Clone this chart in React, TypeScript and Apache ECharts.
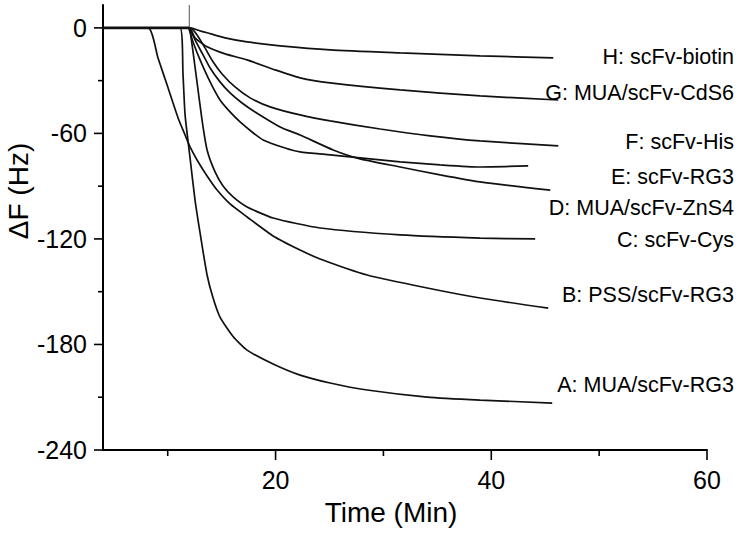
import React, { useEffect, useRef } from "react";
import * as echarts from "echarts";

// Time (min), ΔF (Hz)
const curveA: [number, number][] = [
  [4, 0], [11.14, 0], [11.42, -26.7], [11.61, -49.5], [12.07, -73.9], [12.53, -97.8],
  [13.0, -116.6], [13.65, -140.5], [14.2, -153.5], [14.85, -164.5], [16.06, -175.5],
  [17.36, -183.2], [19.77, -191.1], [22.27, -197.4], [25.06, -201.9], [28.49, -205.9],
  [34.06, -209.9], [38.97, -211.6], [45.65, -213.3],
];
const curveB: [number, number][] = [
  [4, 0], [8.17, 0], [9.1, -17.1], [10.03, -34.1], [10.96, -51.2], [11.61, -60.9],
  [12.07, -67.7], [12.72, -75.1], [13.65, -84.2], [14.58, -92.2], [15.78, -100.1],
  [17.36, -107.5], [19.77, -118.3], [22.27, -126.3], [24.13, -131.4], [28.49, -140.5],
  [34.06, -147.9], [38.97, -153.6], [45.28, -159.3],
];
const curveC: [number, number][] = [
  [4, 0], [12.0, 0], [12.07, -1.1], [12.63, -26.7], [13.18, -52.3], [13.65, -69.4],
  [14.39, -81.9], [15.13, -89.9], [16.06, -96.1], [17.36, -101.8], [19.77, -108.1],
  [24.13, -113.8], [31.55, -117.7], [38.97, -119.5], [44.07, -120.0],
];
const curveD: [number, number][] = [
  [4, 0], [11.98, 0], [12.07, -0.6], [12.63, -8.0], [13.28, -15.4], [13.93, -22.8],
  [14.85, -30.7], [15.78, -37.0], [16.89, -42.7], [18.1, -47.8], [20.42, -56.3],
  [22.27, -60.9], [25.34, -69.4], [27.84, -74.5], [31.55, -79.1], [35.26, -83.6],
  [38.97, -87.6], [45.47, -92.2],
];
const curveE: [number, number][] = [
  [4, 0], [11.95, 0], [11.98, -0.6], [12.35, -8.0], [13.0, -18.2], [13.93, -30.7],
  [14.85, -41.0], [15.78, -47.8], [16.71, -53.5], [17.82, -59.2], [18.84, -63.7],
  [20.88, -68.3], [22.27, -70.5], [25.06, -72.2], [27.84, -73.9], [31.55, -76.2],
  [35.26, -77.9], [38.97, -79.1], [43.42, -78.5],
];
const curveF: [number, number][] = [
  [4, 0], [12.07, 0], [12.72, -4.0], [13.46, -11.4], [14.2, -19.3], [15.04, -26.2],
  [16.24, -33.6], [17.64, -39.8], [19.49, -44.9], [22.27, -49.5], [25.06, -52.9],
  [29.7, -57.5], [34.33, -61.4], [38.97, -64.3], [46.21, -67.1],
];
const curveG: [number, number][] = [
  [4, 0], [11.98, 0], [12.53, -5.7], [13.65, -10.8], [15.32, -14.8], [17.36, -18.2],
  [19.96, -23.9], [22.27, -28.4], [25.06, -31.3], [31.55, -35.3], [38.97, -38.7],
  [46.21, -41.0],
];
const curveH: [number, number][] = [
  [4, 0], [12.07, 0], [13.0, -1.7], [13.65, -2.8], [15.32, -5.7], [17.36, -8.0],
  [20.42, -10.2], [25.06, -12.5], [31.55, -14.2], [38.97, -15.9], [45.74, -17.1],
];
const injectionSpike: [number, number][] = [[12.0, 0], [12.0, 13]];
const baselineNoise: [number, number][] = [[4, 0], [12.0, 0]];

const seriesNames = [
  "A: MUA/scFv-RG3",
  "B: PSS/scFv-RG3",
  "C: scFv-Cys",
  "D: MUA/scFv-ZnS4",
  "E: scFv-RG3",
  "F: scFv-His",
  "G: MUA/scFv-CdS6",
  "H: scFv-biotin",
];

const yMajorTicks = [-240, -180, -120, -60, 0];
const yAllTicks = [-240, -210, -180, -150, -120, -90, -60, -30, 0];
const xMajorTicks = [20, 40, 60];
const xAllTicks = [10, 20, 30, 40, 50, 60];

const xTitle = "Time (Min)";
const yTitle = "ΔF (Hz)";

const X_MIN = 4;
const Y_MIN = -240;

export default function App() {
  const ref = useRef<HTMLDivElement>(null);
  useEffect(() => {
    if (!ref.current) return;
    const chart = echarts.init(ref.current, null, { renderer: "svg" });
    const font = "'Liberation Sans', Arial, Helvetica, sans-serif";
    const curves = [curveA, curveB, curveC, curveD, curveE, curveF, curveG, curveH];
    const labelYs = [385, 295, 240, 208, 177, 142, 93, 57];

    const lineSeries: any[] = curves.map((c, i) => ({
      name: seriesNames[i],
      type: "line",
      data: c,
      showSymbol: false,
      symbol: "none",
      smooth: 0.2,
      lineStyle: { color: "#111", width: 1.7 },
      emphasis: { disabled: true },
      z: 3,
    }));
    lineSeries.push({
      name: "spike",
      type: "line",
      data: injectionSpike,
      showSymbol: false,
      symbol: "none",
      lineStyle: { color: "#555", width: 1 },
      emphasis: { disabled: true },
    });
    lineSeries.push({
      name: "baseline",
      type: "line",
      data: baselineNoise,
      showSymbol: false,
      symbol: "none",
      lineStyle: { color: "#111", width: 2.6 },
      emphasis: { disabled: true },
    });

    const xMajorSet = new Set(xMajorTicks);
    const yMajorSet = new Set(yMajorTicks);
    lineSeries.push({
      name: "xTicks",
      type: "custom",
      clip: false,
      silent: true,
      data: xAllTicks.map((v) => [v, Y_MIN]),
      encode: { x: 0, y: 1 },
      renderItem: (_p: any, api: any) => {
        const v = api.value(0);
        const pt = api.coord([v, Y_MIN]);
        const major = xMajorSet.has(v);
        const len = major ? 10 : 6;
        const children: any[] = [
          {
            type: "rect",
            shape: { x: pt[0] - 0.8, y: pt[1], width: 1.6, height: len },
            style: { fill: "#000" },
          },
        ];
        if (major) {
          children.push({
            type: "text",
            x: pt[0],
            y: pt[1] + 17,
            style: {
              text: String(v),
              fill: "#000",
              font: `25px ${font}`,
              textAlign: "center",
              textVerticalAlign: "top",
            },
          });
        }
        return { type: "group", children };
      },
      z: 5,
    });
    lineSeries.push({
      name: "yTicks",
      type: "custom",
      clip: false,
      silent: true,
      data: yAllTicks.map((v) => [X_MIN, v]),
      encode: { x: 0, y: 1 },
      renderItem: (_p: any, api: any) => {
        const v = api.value(1);
        const pt = api.coord([X_MIN, v]);
        const major = yMajorSet.has(v);
        const len = major ? 9 : 5;
        const children: any[] = [
          {
            type: "rect",
            shape: { x: pt[0] - len, y: pt[1] - 0.8, width: len, height: 1.6 },
            style: { fill: "#000" },
          },
        ];
        if (major) {
          children.push({
            type: "text",
            x: pt[0] - 16,
            y: pt[1],
            style: {
              text: String(v),
              fill: "#000",
              font: `25px ${font}`,
              textAlign: "right",
              textVerticalAlign: "middle",
            },
          });
        }
        return { type: "group", children };
      },
      z: 5,
    });

    chart.setOption({
      animation: false,
      backgroundColor: "#fff",
      grid: { left: 103, right: 43, top: 5, bottom: 84 },
      xAxis: {
        type: "value",
        min: X_MIN,
        max: 60,
        splitLine: { show: false },
        axisLine: { show: true, onZero: false, lineStyle: { color: "#000", width: 2 } },
        axisTick: { show: false },
        axisLabel: { show: false },
      },
      yAxis: {
        type: "value",
        min: Y_MIN,
        max: 13,
        splitLine: { show: false },
        axisLine: { show: true, onZero: false, lineStyle: { color: "#000", width: 2 } },
        axisTick: { show: false },
        axisLabel: { show: false },
      },
      series: lineSeries,
      graphic: [
        ...seriesNames.map((name, i) => ({
          id: "label_" + i,
          type: "text",
          x: 734,
          y: labelYs[i],
          style: {
            text: name,
            fill: "#000",
            font: `21.5px ${font}`,
            textAlign: "right",
            textVerticalAlign: "middle",
          },
          z: 10,
        })),
        {
          id: "title_x",
          type: "text",
          x: 391,
          y: 512,
          style: {
            text: xTitle,
            fill: "#000",
            font: `28px ${font}`,
            textAlign: "center",
            textVerticalAlign: "middle",
          },
        },
        {
          id: "title_y",
          type: "text",
          x: 18,
          y: 191,
          rotation: Math.PI / 2,
          style: {
            text: yTitle,
            fill: "#000",
            font: `28px ${font}`,
            textAlign: "center",
            textVerticalAlign: "middle",
          },
        },
      ],
    });

    return () => chart.dispose();
  }, []);
  return (
    <div
      ref={ref}
      style={{ position: "fixed", left: 0, top: 0, width: 750, height: 534, background: "#fff" }}
    />
  );
}
